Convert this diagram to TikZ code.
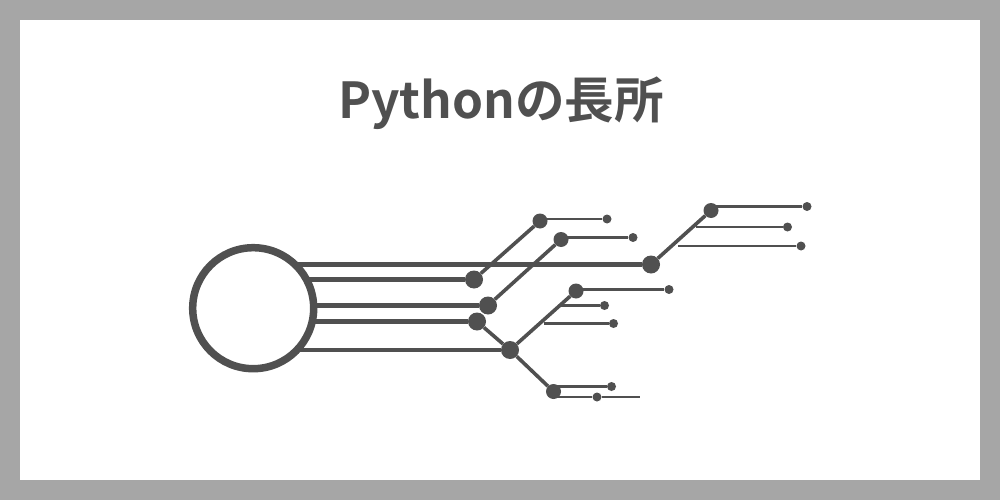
\documentclass[tikz,border=0pt]{standalone}
\usepackage{fontspec}
\newfontfamily\cjk{Noto Sans CJK JP Bold}
\definecolor{ink}{HTML}{505050}
\definecolor{frame}{HTML}{A6A6A6}
\tikzset{
  bigdot/.style={circle,fill=ink,draw=none,minimum size=18pt,inner sep=0pt},
  middot/.style={circle,fill=ink,draw=none,minimum size=15pt,inner sep=0pt},
  tipdot/.style={circle,fill=ink,draw=none,minimum size=9pt,inner sep=0pt},
  trunk/.style={draw=ink,line width=4.6pt},
  limb/.style={draw=ink,line width=3.6pt},
  twig/.style={draw=ink,line width=2.8pt},
  hub/.style={circle,draw=ink,line width=7.5pt,fill=white,minimum size=121pt,inner sep=0pt,outer sep=0pt},
  titletext/.style={text=ink,font=\cjk\fontsize{49.6}{53}\selectfont,inner sep=0pt}
}
\begin{document}
\begin{tikzpicture}[x=1pt,y=-1pt]
\useasboundingbox (0,0) rectangle (1000,500);
\fill[frame] (0,0) rectangle (1000,500);
\fill[white] (20,20) rectangle (980,480);
\node[titletext] (title) at (501,103.5) {Pythonの長所};

\coordinate (h1) at (290,264.5);
\coordinate (h2) at (290,279.5);
\coordinate (h3) at (300,305.5);
\coordinate (h4) at (300,321.5);
\coordinate (h5) at (290,350);

\node[bigdot] (e) at (651,264.5) {};
\node[bigdot] (a) at (474,279.5) {};
\node[bigdot] (b) at (488,305.5) {};
\node[bigdot] (c) at (477,321.5) {};
\node[bigdot] (d) at (510,350) {};
\node[middot] (a2) at (540,221) {};
\node[middot] (b2) at (561,239.5) {};
\node[middot] (d2) at (576,291) {};
\node[middot] (d3) at (553.5,391.5) {};
\node[middot] (e2) at (711,210.5) {};
\node[tipdot] (a3) at (607,219) {};
\node[tipdot] (b3) at (633,237.5) {};
\node[tipdot] (d4) at (669,289.5) {};
\node[tipdot] (d5) at (604.5,305.5) {};
\node[tipdot] (d6) at (613.5,323.5) {};
\node[tipdot] (d7) at (611.5,386.5) {};
\node[tipdot] (d8) at (597,397) {};
\node[tipdot] (e3) at (807,206.5) {};
\node[tipdot] (e4) at (787.5,227) {};
\node[tipdot] (e5) at (801,246) {};
\coordinate (d9) at (640,397);
\coordinate (a2s) at (540,219);
\coordinate (b2s) at (561,237.5);
\coordinate (d2s) at (576,289.5);
\coordinate (e2s) at (711,206.5);
\coordinate (d5s) at (561,305.5);
\coordinate (d6s) at (544,323.5);
\coordinate (e4s) at (696,227);
\coordinate (e5s) at (678,246);
\coordinate (d8s) at (553.5,397);
\coordinate (d7s) at (553.5,386.5);

\draw[trunk] (h1) -- (e);
\draw[trunk] (h2) -- (a);
\draw[trunk] (h3) -- (b);
\draw[trunk] (h4) -- (c);
\draw[trunk] (h5) -- (d);
\draw[limb] (a) -- (a2);
\draw[limb] (b) -- (b2);
\draw[limb] (c) -- (d);
\draw[limb] (d) -- (d2);
\draw[limb] (d) -- (d3);
\draw[limb] (e) -- (e2);
\draw[twig] (a2s) -- (a3);
\draw[twig] (b2s) -- (b3);
\draw[twig] (d2s) -- (d4);
\draw[twig] (d5s) -- (d5);
\draw[twig] (d6s) -- (d6);
\draw[twig] (d7s) -- (d7);
\draw[twig] (d8s) -- (d8) -- (d9);
\draw[twig] (e2s) -- (e3);
\draw[twig] (e4s) -- (e4);
\draw[twig] (e5s) -- (e5);
\node[hub] (hub) at (253.2,308.2) {};
\end{tikzpicture}
\end{document}
